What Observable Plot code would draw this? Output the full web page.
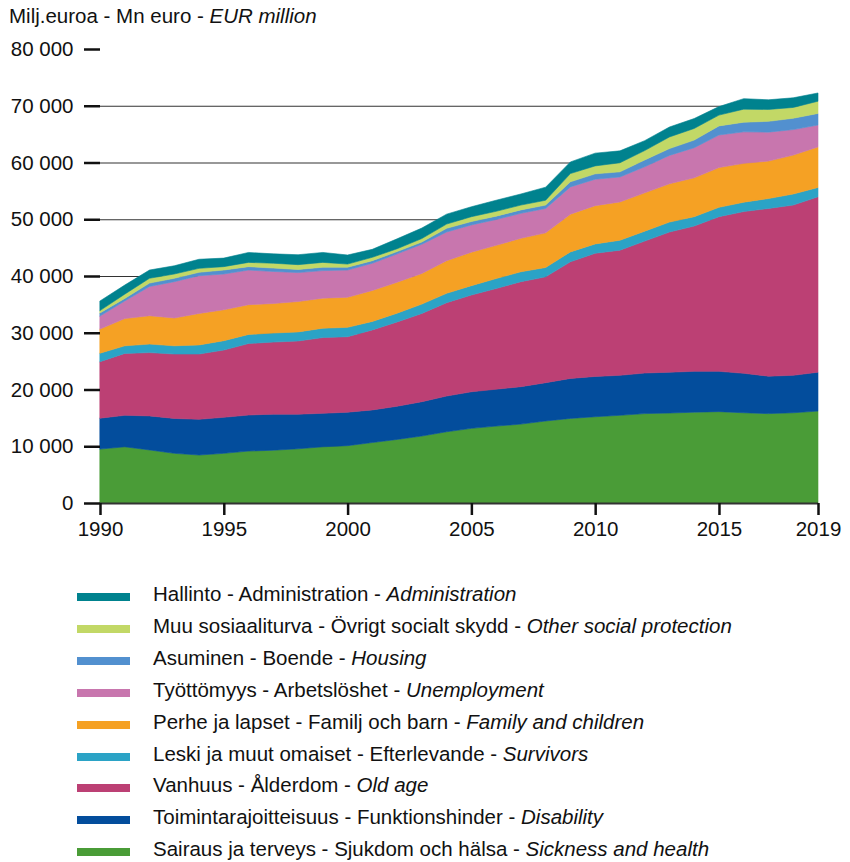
<!DOCTYPE html>
<html>
<head>
<meta charset="utf-8">
<script src="https://cdn.jsdelivr.net/npm/d3@7"></script>
<script src="https://cdn.jsdelivr.net/npm/@observablehq/plot@0.6"></script>
<style>
  html, body { margin: 0; padding: 0; background: #fff; }
  body { width: 850px; height: 862px; position: relative; font-family: "Liberation Sans", Arial, Helvetica, sans-serif; color: #111; }
  #title { position: absolute; left: 9px; top: 4px; font-size: 20.5px; line-height: 24px; }
  #chart { position: absolute; left: 0; top: 0; }
  #legend { position: absolute; left: 0; top: 583px; }
  .row { position: absolute; left: 0; height: 30px; width: 840px; }
  .sw { position: absolute; left: 77px; top: 10px; width: 53px; height: 8px; }
  .lb { position: absolute; left: 153px; top: -1px; font-size: 20.5px; line-height: 24px; white-space: nowrap; }
</style>
</head>
<body>
<div id="chart"></div>
<div id="title">Milj.euroa - Mn euro - <i>EUR million</i></div>
<div id="legend"></div>
<script>
const years = [1990,1991,1992,1993,1994,1995,1996,1997,1998,1999,2000,2001,2002,2003,2004,2005,2006,2007,2008,2009,2010,2011,2012,2013,2014,2015,2016,2017,2018,2019];

// Values in EUR million, stacked bottom to top
const sickness     = [9500,9900,9350,8750,8450,8750,9150,9300,9550,9900,10100,10650,11200,11800,12550,13150,13550,13900,14450,14900,15200,15450,15750,15850,16000,16100,15900,15750,15900,16200];
const disability   = [5450,5550,6000,6150,6300,6350,6350,6350,6100,5900,5900,5750,5850,6050,6300,6450,6500,6600,6750,7050,7100,7050,7150,7200,7200,7100,6950,6600,6600,6850];
const oldAge       = [9950,10900,11150,11350,11500,11850,12600,12700,12900,13350,13300,14100,14850,15550,16450,17050,17750,18500,18650,20550,21700,22050,23250,24700,25600,27250,28500,29550,30000,30900];
const survivors    = [1500,1350,1500,1450,1600,1650,1600,1600,1600,1650,1650,1500,1550,1650,1650,1650,1750,1750,1650,1750,1650,1750,1750,1750,1650,1650,1650,1750,1950,1650];
const family       = [4250,4800,5000,4900,5550,5450,5250,5200,5350,5300,5300,5450,5450,5400,5750,5900,5850,5900,6100,6650,6750,6750,6750,6750,6850,7000,6850,6600,6850,7150];
const unemployment = [2300,3100,5150,6400,6650,6300,6100,5650,5100,4850,4800,4800,5000,5150,5050,4800,4550,4400,4300,4800,4650,4400,4600,5000,5300,5750,5550,5100,4500,3850];
const housing      = [550,450,600,600,600,700,600,600,550,600,500,450,400,400,650,600,600,600,600,900,950,900,1200,1200,1350,1600,1700,1900,2000,2050];
const other        = [400,750,850,750,700,600,750,850,850,850,550,600,500,600,750,850,850,850,850,1450,1400,1600,1650,2050,2050,1900,2300,2100,1900,2150];
const admin        = [1700,1600,1450,1450,1600,1500,1750,1650,1750,1750,1600,1400,1750,1850,1750,1750,1950,1950,2300,2050,2250,2100,1750,1750,1750,1500,1850,1700,1700,1450];

const seriesKeys = ["sickness","disability","oldAge","survivors","family","unemployment","housing","other","admin"];
const seriesValues = [sickness, disability, oldAge, survivors, family, unemployment, housing, other, admin];
const seriesColors = ["#4a9c37","#034d9c","#bc4074","#2ba3c6","#f5a124","#c876ae","#5290cf","#c2d866","#00828e"];
const labelFi = ["Sairaus ja terveys","Toimintarajoitteisuus","Vanhuus","Leski ja muut omaiset","Perhe ja lapset","Työttömyys","Asuminen","Muu sosiaaliturva","Hallinto"];
const labelSv = ["Sjukdom och hälsa","Funktionshinder","Ålderdom","Efterlevande","Familj och barn","Arbetslöshet","Boende","Övrigt socialt skydd","Administration"];
const labelEn = ["Sickness and health","Disability","Old age","Survivors","Family and children","Unemployment","Housing","Other social protection","Administration"];

const yTicks = [0,10000,20000,30000,40000,50000,60000,70000,80000];
const gridTicks = [10000,20000,30000,40000,50000,60000,70000];
const xTicks = [1990,1995,2000,2005,2010,2015,2019];

const rows = [];
seriesKeys.forEach((k, i) => {
  years.forEach((yr, j) => rows.push({year: yr, key: k, value: seriesValues[i][j]}));
});

const fmt = d => d3.format(",")(d).replace(/,/g, " ");

const plot = Plot.plot({
  width: 850,
  height: 545,
  marginLeft: 100,
  marginRight: 32,
  marginTop: 49,
  marginBottom: 42,
  style: {fontFamily: '"Liberation Sans", Arial, Helvetica, sans-serif', fontSize: "20.5px", color: "#111", background: "white", overflow: "visible"},
  x: {domain: [1990, 2019]},
  y: {domain: [0, 80000]},
  color: {domain: seriesKeys, range: seriesColors},
  marks: [
    Plot.gridY(gridTicks, {stroke: "#333", strokeOpacity: 1, strokeWidth: 1.2}),
    Plot.areaY(rows, {x: "year", y: "value", z: "key", fill: "key", stroke: "key", strokeWidth: 0.6, order: seriesKeys, curve: "linear"}),
    Plot.ruleY([0], {stroke: "#333", strokeWidth: 2}),
    Plot.axisY(yTicks, {tickSize: 16, tickPadding: 11, strokeWidth: 2.5, stroke: "#111", tickFormat: fmt, fontSize: 20.5, fill: "#111", label: null}),
    Plot.axisX(xTicks, {tickSize: 12, tickPadding: 6, strokeWidth: 2.5, stroke: "#111", tickFormat: d => String(d), fontSize: 20.5, fill: "#111", label: null})
  ]
});
document.getElementById("chart").appendChild(plot);

const legend = document.getElementById("legend");
const order = seriesKeys.map((k, i) => i).reverse();
order.forEach((i, r) => {
  const row = document.createElement("div");
  row.className = "row";
  row.style.top = (r * 31.9) + "px";
  const sw = document.createElement("div");
  sw.className = "sw";
  sw.style.background = seriesColors[i];
  const lb = document.createElement("div");
  lb.className = "lb";
  lb.innerHTML = labelFi[i] + " - " + labelSv[i] + " - <i>" + labelEn[i] + "</i>";
  row.appendChild(sw);
  row.appendChild(lb);
  legend.appendChild(row);
});
</script>
</body>
</html>
